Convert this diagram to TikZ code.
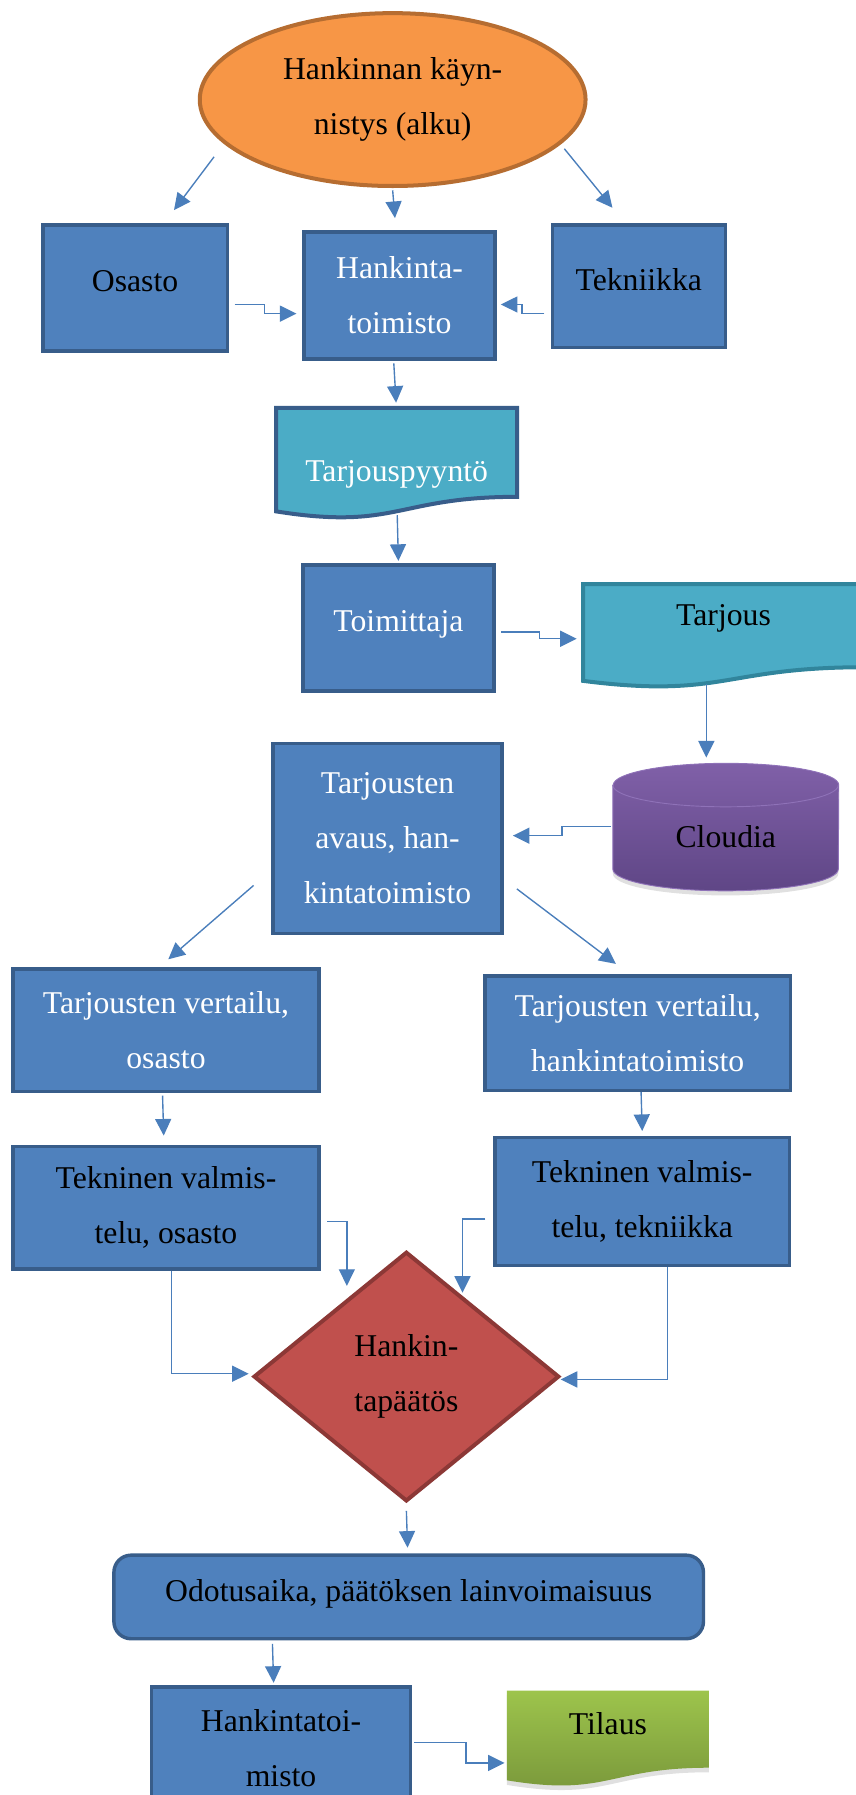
\documentclass[tikz,border=0pt]{standalone}
\usepackage{fontspec}
\setmainfont{Liberation Serif}
\usetikzlibrary{shapes.geometric,arrows.meta,backgrounds}

\definecolor{boxfill}{HTML}{4F81BD}
\definecolor{boxline}{HTML}{385D8A}
\definecolor{docfill}{HTML}{4BACC6}
\definecolor{docline}{HTML}{31859C}
\definecolor{startfill}{HTML}{F79646}
\definecolor{startline}{HTML}{B66D31}
\definecolor{decfill}{HTML}{C0504D}
\definecolor{decline}{HTML}{8C3836}
\definecolor{dbtop}{HTML}{8060A8}
\definecolor{dbbottom}{HTML}{5F4686}
\definecolor{dbline}{HTML}{8F72B8}
\definecolor{ordertop}{HTML}{9DC44C}
\definecolor{orderbottom}{HTML}{78963A}
\definecolor{connblue}{HTML}{4A7EBB}

\newcommand{\flowfont}{\fontsize{27.7pt}{48pt}\selectfont}
% wavy document outline round a node: style, node, height
\newcommand{\wavedoc}[3]{\path[#1] (#2.north west) -- (#2.north east)
  -- ([yshift={0.198*#3}]#2.south east)
  .. controls ([yshift={0.198*#3}]#2.south) and ([yshift={-0.108*#3}]#2.south)
  .. ([yshift={0.066*#3}]#2.south west) -- cycle;}

\begin{document}
\begin{tikzpicture}[x=1pt,y=1pt,
  box/.style={rectangle, draw=boxline, fill=boxfill, line width=3pt, inner sep=0pt, align=center, font=\flowfont},
  doc/.style={rectangle, inner sep=0pt, align=center, font=\flowfont},
  white text/.style={text=white},
  conn/.style={draw=connblue, line width=1.2pt, -{Triangle[width=14pt,length=14.5pt]}}]
\useasboundingbox (0,0) rectangle (747,1568);

% start and the three offices
\node[ellipse, draw=startline, fill=startfill, line width=3.5pt, minimum width=337pt, minimum height=151pt, inner sep=0pt, align=center, font=\flowfont] (start) at (343,1481) {Hankinnan käyn-\\nistys (alku)};
\node[box, minimum width=161pt, minimum height=110pt, text depth=12pt] (osasto) at (118,1316.5) {Osasto};
\node[box, white text, minimum width=167pt, minimum height=111pt] (hank) at (349,1310) {Hankinta-\\toimisto};
\node[box, minimum width=151pt, minimum height=107pt, text depth=12pt] (tekn) at (558,1318) {Tekniikka};

% request and offer
\node[doc, white text, minimum width=210pt, minimum height=96.4pt, text height=38pt, text depth=6pt] (tpp) at (346.5,1163.3) {Tarjouspyyntö};
\node[box, white text, minimum width=167pt, minimum height=110pt, text depth=12pt] (toim) at (348,1019.5) {Toimittaja};
\node[doc, minimum width=245pt, minimum height=90pt, text height=19pt, text depth=38pt] (tarjous) at (632,1012.5) {Tarjous};
\node[doc, minimum width=197pt, minimum height=111pt, text height=36pt, text depth=0pt] (cloudia) at (634,845.5) {Cloudia};
\node[box, white text, minimum width=200pt, minimum height=166pt] (avaus) at (338.5,835.5) {Tarjousten\\avaus, han-\\kintatoimisto};

% comparison and preparation
\node[box, white text, minimum width=267pt, minimum height=107pt] (tvo) at (145,668) {Tarjousten vertailu,\\osasto};
\node[box, white text, minimum width=267pt, minimum height=100pt] (tvh) at (557,665.5) {Tarjousten vertailu,\\hankintatoimisto};
\node[box, minimum width=267pt, minimum height=107pt] (teko) at (145,513) {Tekninen valmis-\\telu, osasto};
\node[box, minimum width=257pt, minimum height=112pt] (tekt) at (561,518.5) {Tekninen valmis-\\telu, tekniikka};

% decision and order
\node[diamond, draw=decline, fill=decfill, line width=3.5pt, aspect=1.22, minimum width=267pt, minimum height=218pt, inner sep=0pt, align=center, font=\flowfont] (dia) at (355,365.5) {Hankin-\\tapäätös};
\node[box, rounded corners=15pt, minimum width=515pt, minimum height=73pt, text depth=12pt] (odot) at (357,173) {Odotusaika, päätöksen lainvoimaisuus};
\node[box, minimum width=226pt, minimum height=107pt] (hto) at (245.5,41) {Hankintatoi-\\misto};
\node[doc, minimum width=176pt, minimum height=83.5pt, text height=19pt, text depth=26pt] (tilaus) at (531,49.25) {Tilaus};

\begin{scope}[on background layer]
\wavedoc{fill=docfill, draw=boxline, line width=3.5pt}{tpp}{96.4}
\wavedoc{fill=docfill, draw=docline, line width=3.5pt}{tarjous}{90}
\wavedoc{fill=black, opacity=0.12, transform canvas={yshift=-4pt}}{tilaus}{83.5}
\wavedoc{top color=ordertop, bottom color=orderbottom}{tilaus}{83.5}
\shadedraw[top color=dbtop, bottom color=dbbottom, draw=dbline, line width=0.8pt,
  preaction={fill=black, opacity=0.12, transform canvas={yshift=-4pt}}]
  ([yshift=-19pt]cloudia.north west) -- ([yshift=19pt]cloudia.south west)
  arc[start angle=180, end angle=360, x radius=98.5pt, y radius=19pt]
  -- ([yshift=-19pt]cloudia.north east)
  arc[start angle=0, end angle=180, x radius=98.5pt, y radius=19pt] -- cycle;
\draw[dbline, line width=0.8pt] ([yshift=-19pt]cloudia.north west)
  arc[start angle=180, end angle=360, x radius=98.5pt, y radius=19pt];
\end{scope}

% connectors
\draw[conn] ([xshift=-156pt,yshift=-50pt]start.center) -- ([xshift=34pt,yshift=11.5pt]osasto.north);
\draw[conn] ([yshift=-2pt]start.south) -- ([xshift=-4pt,yshift=10.5pt]hank.north);
\draw[conn] ([xshift=150pt,yshift=-43pt]start.center) -- ([xshift=-23pt,yshift=13.5pt]tekn.north);
\draw[conn] ([xshift=5pt,yshift=-14.5pt]osasto.east) -- ++(26pt,0) |- ([xshift=-5pt,yshift=-16pt]hank.west);
\draw[conn] ([xshift=-5.5pt,yshift=-24pt]tekn.west) -- ++(-19.5pt,0) |- ([xshift=3.5pt,yshift=-8pt]hank.east);
\draw[conn] ([xshift=-5pt,yshift=-2.5pt]hank.south) -- ([xshift=-0.5pt,yshift=4.5pt]tpp.north);
\draw[conn] ([xshift=0.5pt,yshift=3pt]tpp.south) -- ([yshift=2pt]toim.north);
\draw[conn] ([xshift=5pt,yshift=-3.5pt]toim.east) -- ++(33pt,0) |- ([xshift=-5.5pt,yshift=-2.5pt]tarjous.west);
\draw[conn] ([xshift=-15pt,yshift=3pt]tarjous.south) -- ([xshift=-17pt,yshift=5pt]cloudia.north);
\draw[conn] ([xshift=-1.5pt,yshift=0.5pt]cloudia.west) -- ++(-43pt,0) |- ([xshift=8pt,yshift=2.5pt]avaus.east);
\draw[conn] ([xshift=-15.5pt,yshift=43.5pt]avaus.south west) -- ([xshift=2pt,yshift=7pt]tvo.north);
\draw[conn] ([xshift=11.5pt,yshift=40.5pt]avaus.south east) -- ([xshift=-19pt,yshift=9pt]tvh.north);
\draw[conn] ([xshift=-3pt,yshift=-2pt]tvo.south) -- ([xshift=-2pt,yshift=8pt]teko.north);
\draw[conn] ([xshift=3pt]tvh.south) -- ([yshift=4pt]tekt.north);
\draw[conn] ([xshift=6pt,yshift=-12pt]teko.east) -| ([xshift=-52pt,yshift=-31.5pt]dia.north);
\draw[conn] ([xshift=5pt]teko.south) |- ([xshift=-2.5pt,yshift=2.5pt]dia.west);
\draw[conn] ([xshift=-7pt,yshift=-15.5pt]tekt.west) -| ([xshift=49pt,yshift=-37.5pt]dia.north);
\draw[conn] ([xshift=22pt]tekt.south) |- ([xshift=-0.5pt,yshift=-2.5pt]dia.east);
\draw[conn] ([yshift=-6.5pt]dia.south) -- ([xshift=-1pt,yshift=5pt]odot.north);
\draw[conn] ([xshift=-119pt,yshift=-3pt]odot.south) -- ([xshift=-6.5pt,yshift=2pt]hto.north);
\draw[conn] ([xshift=2pt,yshift=5pt]hto.east) -- ++(45pt,0) |- ([xshift=-2pt,yshift=-21.25pt]tilaus.west);
\end{tikzpicture}
\end{document}
